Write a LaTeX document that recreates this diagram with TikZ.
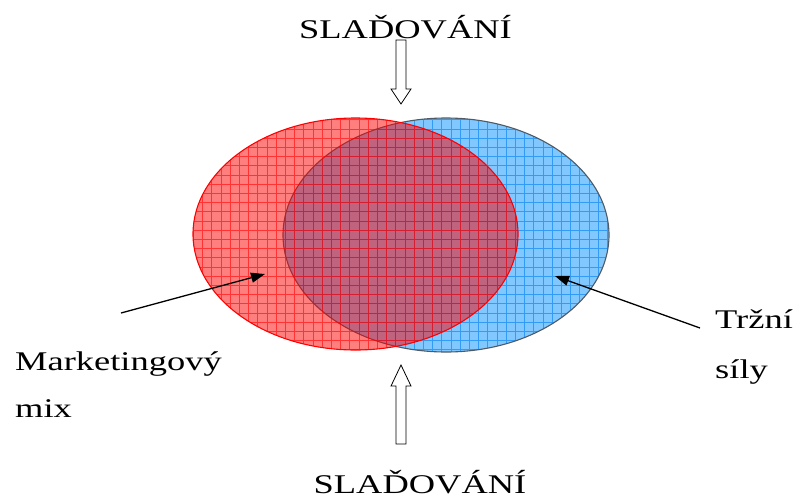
\documentclass[tikz,border=0pt]{standalone}
\usepackage{fontspec}
\setmainfont{Liberation Serif}
\usetikzlibrary{arrows.meta,calc}
\definecolor{skyfill}{RGB}{128,200,255}
\definecolor{skygrid}{RGB}{50,155,245}
\definecolor{skyedge}{RGB}{80,90,100}
\tikzset{
  lbl/.style={inner sep=0pt, anchor=base west, font=\fontsize{27}{31}\selectfont},
  pointer/.style={-{Triangle[length=14pt,width=10pt]}, line width=1.3pt},
  hollow/.style={draw=black, line width=0.8pt, fill=white},
  gridline/.style={line width=0.5pt},
}
% horizontally widened lettering
\newcommand\wide[1]{\scalebox{1.35}[1]{#1}}
\begin{document}
\begin{tikzpicture}[x=1pt,y=-1pt]
\useasboundingbox (0,0) rectangle (797,499);

% market forces (blue)
\coordinate (bc) at (446,235);
\fill[skyfill] (bc) ellipse [x radius=163, y radius=117];
\begin{scope}
  \clip (bc) ellipse [x radius=163, y radius=117];
  \draw[gridline, skygrid, step=9.2pt] (270,110) grid (620,360);
\end{scope}
\draw[skyedge, line width=1.1pt] (bc) ellipse [x radius=163, y radius=117];

% marketing mix (red, translucent)
\coordinate (rc) at (355.5,234);
\fill[red, opacity=0.5] (rc) ellipse [x radius=162.5, y radius=116];
\begin{scope}
  \clip (rc) ellipse [x radius=162.5, y radius=116];
  \draw[gridline, red, opacity=0.6, step=9.2pt] (185,110) grid (525,360);
\end{scope}
\draw[red, line width=1.1pt] (rc) ellipse [x radius=162.5, y radius=116];

% labels
\node[lbl, anchor=base] (top) at (405.5,38) {\wide{SLAĎOVÁNÍ}};
\node[lbl, anchor=base] (bottom) at (420,493) {\wide{SLAĎOVÁNÍ}};
\node[lbl] (mm1) at (15,370) {\wide{Marketingový}};
\node[lbl] (mm2) at (15,417) {\wide{mix}};
\node[lbl] (tr1) at (715,328) {\wide{Tržní}};
\node[lbl] (tr2) at (715,378) {\wide{síly}};

% pointers
\coordinate (mmtail) at (121,313);
\coordinate (mmtip) at (265,274);
\coordinate (trtail) at (700,328);
\coordinate (trtip) at (555,276);
\draw[pointer] (mmtail) -- (mmtip);
\draw[pointer] (trtail) -- (trtip);

% hollow block arrows
\coordinate (t0) at (401,40);
\coordinate (t1) at (401,104);
\draw[hollow] ($(t0)+(-5,0)$) -- ($(t1)+(-5,-15)$) -- ($(t1)+(-10,-15)$) -- (t1)
  -- ($(t1)+(10,-15)$) -- ($(t1)+(5,-15)$) -- ($(t0)+(5,0)$) -- cycle;
\coordinate (b0) at (401,444);
\coordinate (b1) at (401,365);
\draw[hollow] ($(b0)+(-5,0)$) -- ($(b1)+(-5,21)$) -- ($(b1)+(-10,21)$) -- (b1)
  -- ($(b1)+(10,21)$) -- ($(b1)+(5,21)$) -- ($(b0)+(5,0)$) -- cycle;
\end{tikzpicture}
\end{document}
